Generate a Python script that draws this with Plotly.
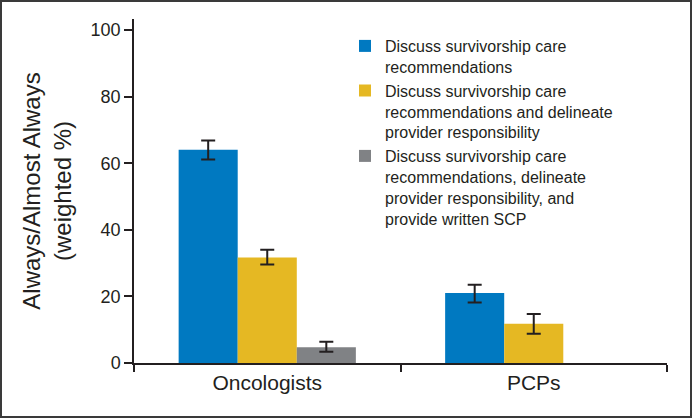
import plotly.graph_objects as go

categories = ["Oncologists", "PCPs"]
series_names = [
    "Discuss survivorship care<br>recommendations",
    "Discuss survivorship care<br>recommendations and delineate<br>provider responsibility",
    "Discuss survivorship care<br>recommendations, delineate<br>provider responsibility, and<br>provide written SCP",
]
values = [
    [64.0, 21.0],
    [31.7, 11.8],
    [4.7, None],
]
err_plus = [
    [2.8, 2.5],
    [2.3, 2.9],
    [1.7, None],
]
err_minus = [
    [2.9, 2.8],
    [2.1, 3.0],
    [1.3, None],
]
colors = ["#0079c1", "#e5b823", "#808285"]

ink = "#231f20"
font_family = "Liberation Sans, Arial, sans-serif"

fig = go.Figure()
for i in range(3):
    fig.add_trace(go.Bar(
        x=categories, y=values[i], name=series_names[i],
        marker=dict(color=colors[i], line=dict(width=0)),
        error_y=dict(type="data", symmetric=False, array=err_plus[i], arrayminus=err_minus[i],
                     color=ink, thickness=2, width=7),
    ))

L, R, T, B = 134, 25, 19, 55
W, H = 692, 418
pw, ph = W - L - R, H - T - B

def px2x(p):
    return (p - L) / pw

def py2y(p):
    return (H - B - p) / ph

fig.update_layout(
    width=W, height=H,
    margin=dict(l=L, r=R, t=T, b=B, autoexpand=False),
    paper_bgcolor="white", plot_bgcolor="white",
    barmode="group", bargap=0.335, bargroupgap=0,
    font=dict(family=font_family, color=ink),
    showlegend=True,
    legend=dict(x=px2x(345), y=py2y(29), xanchor="left", yanchor="top",
                font=dict(size=16, color=ink), bgcolor="rgba(0,0,0,0)",
                itemwidth=30, valign="top", traceorder="normal"),
    xaxis=dict(range=[-0.5, 1.5], showline=True, linecolor=ink, linewidth=1.5,
               ticks="outside", tickson="boundaries", ticklen=7, tickwidth=1.5, tickcolor=ink,
               tickfont=dict(size=21, color=ink), showgrid=False, zeroline=False,
               automargin=False),
    yaxis=dict(range=[0, 103.3], tickvals=[0, 20, 40, 60, 80, 100], showline=True,
               linecolor=ink, linewidth=1.5, ticks="outside", ticklen=8, tickwidth=1.5,
               tickcolor=ink, tickfont=dict(size=18, color=ink), showgrid=False,
               zeroline=False, automargin=False,
               title=dict(text="Always/Almost Always<br>(weighted %)",
                          font=dict(size=24, color=ink), standoff=12)),
    shapes=[dict(type="rect", xref="paper", yref="paper",
                 x0=px2x(1), x1=px2x(691), y0=py2y(417), y1=py2y(1),
                 line=dict(color="#3a3a3a", width=2), fillcolor="rgba(0,0,0,0)", layer="above")],
)

fig.write_html("out.html", config={"displayModeBar": False},
               post_script="document.body.style.margin='0';document.body.style.overflow='hidden';")
